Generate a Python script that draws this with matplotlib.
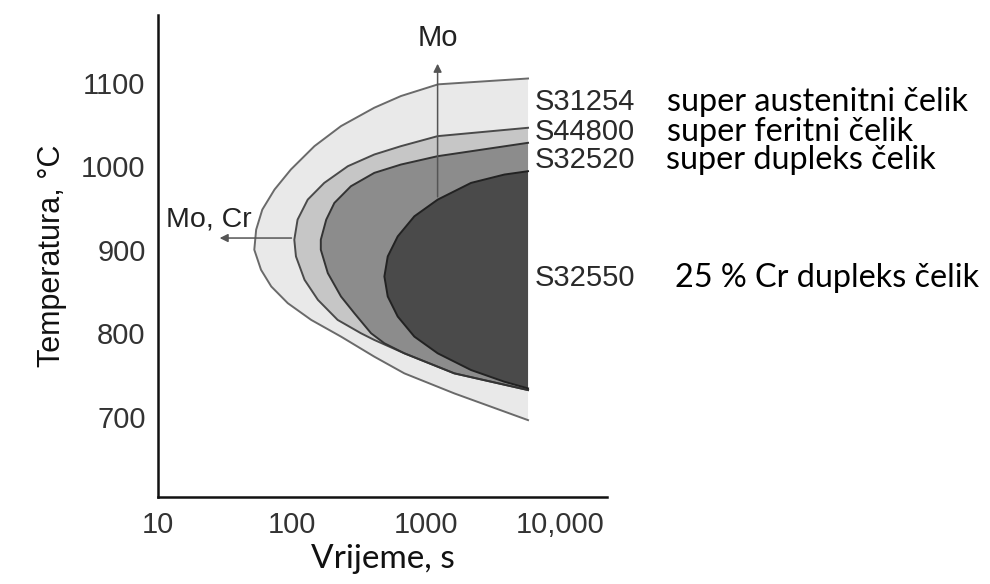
import matplotlib
matplotlib.use("Agg")
import matplotlib.pyplot as plt
import matplotlib.transforms as mtransforms

# ---- data (time in s, temperature in °C) ----
c1_time = [5770, 1230, 650, 411, 232, 147, 98, 74, 60, 54, 52.3, 58.7, 70, 93, 139, 232, 411, 689, 1626, 5770]
c1_temp = [1105, 1098, 1084, 1070, 1048, 1024, 996, 972, 948, 924, 900, 876, 856, 836, 816, 796, 772, 752, 728, 696]

c2_time = [5770, 1222, 650, 411, 261, 174, 131, 110, 104, 107, 124, 156, 219, 327, 411, 689, 1626, 5770]
c2_temp = [1046, 1036, 1024, 1014, 1000, 980, 960, 936, 912, 892, 864, 840, 816, 800, 792, 776, 752, 732]

c3_time = [5770, 1222, 650, 411, 275, 207, 180, 164, 164, 185, 232, 292, 389, 489, 689, 1626, 5770]
c3_temp = [1028, 1012, 1002, 992, 976, 956, 936, 912, 900, 872, 844, 824, 800, 788, 776, 752, 732]

c4_time = [5770, 3840, 2166, 1222, 818, 615, 518, 489, 518, 615, 818, 1222, 2166, 3840, 5770]
c4_temp = [994, 990, 980, 960, 940, 916, 892, 868, 844, 820, 796, 776, 756, 742, 734]

grades = ["S31254", "S44800", "S32520", "S32550"]
descriptions = ["super austenitni čelik", "super feritni čelik",
                "super dupleks čelik", "25 % Cr dupleks čelik"]
label_temps = [1077, 1041, 1007, 866]

x_ticks = [10, 100, 1000, 10000]
x_ticklabels = ["10", "100", "1000", "10,000"]
y_ticks = [700, 800, 900, 1000, 1100]
y_ticklabels = ["700", "800", "900", "1000", "1100"]

# ---- figure ----
fig = plt.figure(figsize=(9.9, 5.84), dpi=100)
ax = fig.add_axes([0.1596, 0.149, 0.4535, 0.8253])
ax.set_xscale("log")
ax.set_xlim(10, 22400)
ax.set_ylim(604, 1181)

curves = [(c1_time, c1_temp), (c2_time, c2_temp), (c3_time, c3_temp), (c4_time, c4_temp)]
fills = ["#e9e9e9", "#c6c6c6", "#8c8c8c", "#4a4a4a"]
lines = ["#6a6a6a", "#4a4a4a", "#333333", "#222222"]
for (t, T), fc, lc in zip(curves, fills, lines):
    ax.fill(t, T, color=fc, lw=0, zorder=1)
    ax.plot(t, T, color=lc, lw=1.4, solid_joinstyle="round", zorder=2)

# arrows
ax.annotate("", xy=(1220, 1126), xytext=(1220, 960),
            arrowprops=dict(arrowstyle="-|>", color="#555555", lw=1.1, mutation_scale=12),
            zorder=3)
ax.text(1230, 1154, "Mo", ha="center", va="center", fontsize=21,
        family="Liberation Sans", color="#222222")
ax.annotate("", xy=(27.5, 914), xytext=(104, 914),
            arrowprops=dict(arrowstyle="-|>", color="#555555", lw=1.1, mutation_scale=12),
            zorder=3)
ax.text(11.4, 936, "Mo, Cr", ha="left", va="center", fontsize=20.5,
        family="Liberation Sans", color="#222222")

# right-hand labels
for g, T in zip(grades, label_temps):
    ax.text(6500, T, g, ha="left", va="center", fontsize=21,
            family="Liberation Sans", color="#2a2a2a", clip_on=False)
blend = mtransforms.blended_transform_factory(fig.transFigure, ax.transData)
x_desc = [0.674, 0.674, 0.673, 0.682]
for d, T, xf in zip(descriptions, label_temps, x_desc):
    ax.text(xf, T, d, ha="left", va="center", fontsize=23.3, family="Lato",
            color="black", transform=blend, clip_on=False)

# axes styling
for s in ["top", "right"]:
    ax.spines[s].set_visible(False)
for s in ["left", "bottom"]:
    ax.spines[s].set_linewidth(1.8)
    ax.spines[s].set_color("#111111")

ax.set_xticks(x_ticks)
ax.set_xticklabels(x_ticklabels)
ax.set_yticks(y_ticks)
ax.set_yticklabels(y_ticklabels)
ax.minorticks_off()
ax.tick_params(axis="both", length=0, labelsize=21, colors="#333333")
ax.tick_params(axis="y", pad=9)
ax.tick_params(axis="x", pad=10)
for lab in ax.get_xticklabels() + ax.get_yticklabels():
    lab.set_family("Liberation Sans")

ax.set_ylabel("Temperatura, °C", fontsize=22, family="Liberation Sans", color="#111111", labelpad=10)
ax.set_xlabel("Vrijeme, s", fontsize=24, family="Lato", color="#111111", labelpad=4)

fig.savefig("out.png", dpi=100, facecolor="white")
